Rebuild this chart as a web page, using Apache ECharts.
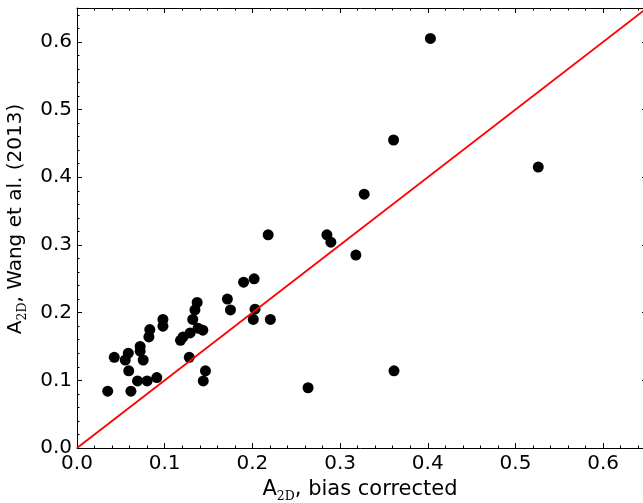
<!DOCTYPE html>
<html>
<head>
<meta charset="utf-8">
<script src="https://cdn.jsdelivr.net/npm/echarts@6/dist/echarts.min.js"></script>
<style>
html,body{margin:0;padding:0;background:#fff;}
#chart{width:643px;height:503px;}
</style>
</head>
<body>
<div id="chart"></div>
<script>
// A_2D, bias corrected (x) vs A_2D, Wang et al. (2013) (y)
const biasCorrected = [0.035,0.0425,0.055,0.0585,0.059,0.0615,0.069,0.072,0.072,0.0755,0.080,0.082,0.083,0.091,0.098,0.098,0.118,0.121,0.128,0.129,0.132,0.1345,0.137,0.138,0.1435,0.1465,0.144,0.1715,0.175,0.19,0.202,0.203,0.201,0.218,0.2205,0.2635,0.285,0.2895,0.318,0.3275,0.361,0.3615,0.403,0.526];
const wang2013 = [0.084,0.134,0.130,0.140,0.114,0.084,0.099,0.150,0.143,0.130,0.099,0.164,0.175,0.104,0.180,0.190,0.159,0.164,0.134,0.170,0.190,0.204,0.215,0.177,0.174,0.114,0.099,0.220,0.204,0.245,0.250,0.205,0.190,0.315,0.190,0.089,0.315,0.304,0.285,0.375,0.455,0.114,0.605,0.415];
const oneToOne = [0, 0.65];
const axisMin = 0, axisMax = 0.65, majorStep = 0.1, minorStep = 0.02;

const points = biasCorrected.map((x, i) => [x, wang2013[i]]);
const linePts = oneToOne.map(v => [v, v]);

const FONT = 'DejaVu Sans';
function richFor(size) {
  return {
    m: {fontFamily: FONT, fontSize: size, lineHeight: 26, color: '#000'},
    s: {fontFamily: 'DejaVu Serif', fontSize: 12.5, lineHeight: 10, verticalAlign: 'bottom', color: '#000'}
  };
}
const fmt = v => v.toFixed(1);

function mkAxis(pos, major, extra) {
  const a = {
    type: 'value', position: pos, min: axisMin, max: axisMax,
    interval: major ? majorStep : minorStep,
    splitLine: {show: false},
    axisLine: {show: major, onZero: false, lineStyle: {color: '#000', width: 1}},
    axisTick: {show: true, inside: true, length: major ? 5 : 2.5, lineStyle: {color: '#000', width: 1}},
    axisLabel: {show: false},
    minorTick: {show: false}
  };
  return Object.assign(a, extra || {});
}

const chart = echarts.init(document.getElementById('chart'));
chart.setOption({
  animation: false,
  backgroundColor: '#fff',
  grid: {left: 77, top: 8, width: 570, height: 440, outerBoundsMode: 'none', containLabel: false},
  xAxis: [
    mkAxis('bottom', true, {
      axisLabel: {show: true, formatter: fmt, fontFamily: FONT, fontSize: 20, color: '#000', margin: 6, showMaxLabel: false},
      name: '{m|A}{s|2D}{m|, bias corrected}', nameLocation: 'middle', nameGap: 29,
      nameTextStyle: {rich: richFor(21), padding: [0, 4, 0, 0]}
    }),
    mkAxis('bottom', false),
    mkAxis('top', true),
    mkAxis('top', false)
  ],
  yAxis: [
    mkAxis('left', true, {
      axisLabel: {show: true, formatter: fmt, fontFamily: FONT, fontSize: 20, color: '#000', margin: 5, showMaxLabel: false},
      name: '{m|A}{s|2D}{m|, Wang et al. (2013)}', nameLocation: 'middle', nameGap: 42,
      nameTextStyle: {rich: richFor(20), padding: [0, 0, 0, 18]}
    }),
    mkAxis('left', false),
    mkAxis('right', true),
    mkAxis('right', false)
  ],
  series: [
    {
      type: 'scatter', xAxisIndex: 0, yAxisIndex: 0, data: points,
      symbol: 'circle', symbolSize: 11,
      itemStyle: {color: '#000', opacity: 1}, z: 2
    },
    {
      type: 'line', xAxisIndex: 0, yAxisIndex: 0, data: linePts,
      symbol: 'none', lineStyle: {color: '#ff0000', width: 1.8}, z: 3,
      silent: true
    }
  ]
});
</script>
</body>
</html>
